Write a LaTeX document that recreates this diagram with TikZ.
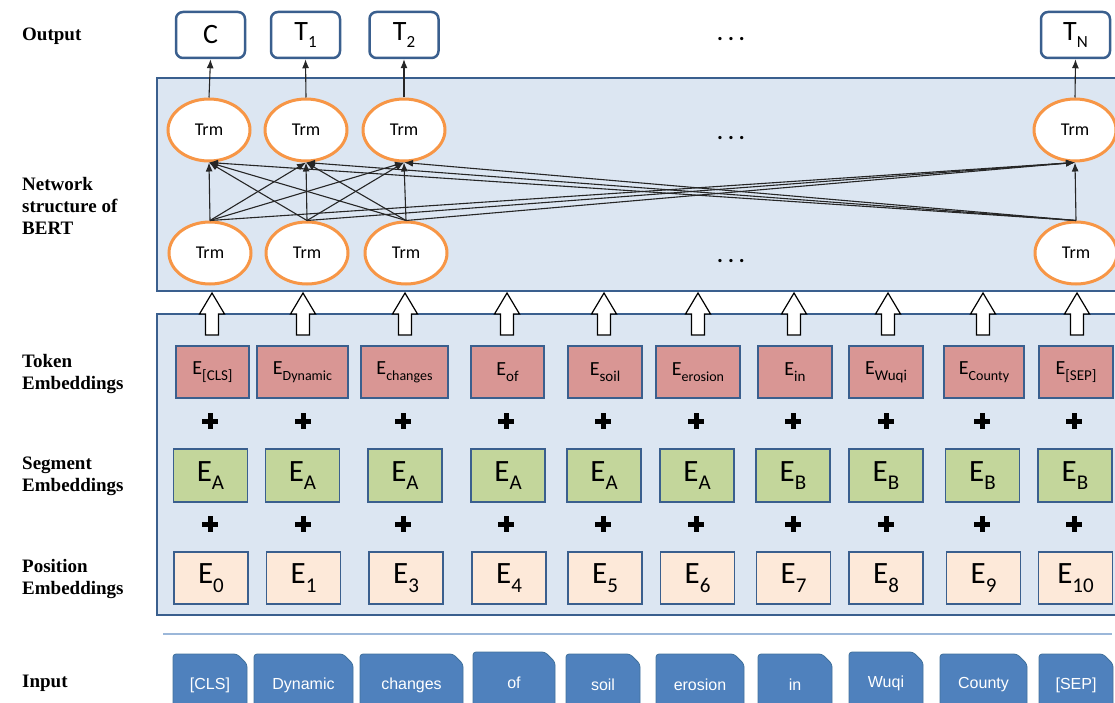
\documentclass[tikz,border=0pt]{standalone}
\usepackage{fontspec}
\setmainfont{Carlito}
\newfontfamily\labelfont{Liberation Serif}
\newfontfamily\inputfont{Liberation Sans}
\usetikzlibrary{shapes.geometric,shapes.misc,arrows.meta}
\definecolor{panelfill}{HTML}{DCE6F2}
\definecolor{panelline}{HTML}{3A5F8E}
\definecolor{tokfill}{HTML}{D99694}
\definecolor{segfill}{HTML}{C3D69B}
\definecolor{posfill}{HTML}{FDE9D9}
\definecolor{trmline}{HTML}{F79646}
\definecolor{inpfill}{HTML}{4F81BD}
\definecolor{inpline}{HTML}{41719C}
\definecolor{sepline}{HTML}{9BB7D9}
\newcommand\lsub[2]{\raisebox{-0.28em}{\fontsize{#1}{#1}\selectfont #2}}
\begin{document}
\begin{tikzpicture}[x=1pt,y=-1pt,
  lbl/.style={anchor=west, align=left, inner sep=0pt, font=\labelfont\bfseries\fontsize{19}{22}\selectfont},
  panel/.style={draw=panelline, fill=panelfill, line width=2.5pt},
  outbox/.style={draw=panelline, fill=white, line width=2.5pt, rounded corners=7pt, minimum width=69pt, minimum height=46pt, inner sep=0pt, font=\fontsize{28}{28}\selectfont},
  trm/.style={ellipse, draw=trmline, fill=white, line width=3pt, minimum width=82pt, minimum height=62pt, inner sep=0pt, font=\fontsize{18}{18}\selectfont},
  conn/.style={-{Latex[length=9pt,width=7pt]}, line width=1.1pt, draw=black!85},
  hollow/.style={draw=black, fill=white, line width=1.2pt},
  plussign/.style={line width=5pt, draw=black},
  tokbox/.style={draw=panelline, fill=tokfill, line width=1.5pt, minimum height=52pt, inner sep=0pt, font=\fontsize{20}{20}\selectfont},
  segbox/.style={draw=panelline, fill=segfill, line width=1.5pt, minimum height=53pt, minimum width=74pt, inner sep=0pt, font=\fontsize{31}{31}\selectfont},
  posbox/.style={draw=panelline, fill=posfill, line width=1.5pt, minimum height=52pt, minimum width=74pt, inner sep=0pt, font=\fontsize{31}{31}\selectfont},
  inpbox/.style={chamfered rectangle, chamfered rectangle corners=north east, chamfered rectangle xsep=5pt, chamfered rectangle ysep=5pt, rounded corners=3pt, draw=inpline, fill=inpfill, line width=0.8pt, minimum height=62pt, inner sep=0pt, text=white, font=\inputfont\fontsize{16}{16}\selectfont},
  dotsnode/.style={font=\bfseries\fontsize{22}{22}\selectfont, inner sep=0pt}
]
\useasboundingbox (0,0) rectangle (1115,703);

% left labels
\node[lbl] (lOut) at (22,36) {Output};
\node[lbl] (lNet) at (22,206) {Network\\structure of\\BERT};
\node[lbl] (lTok) at (22,374) {Token\\Embeddings};
\node[lbl] (lSeg) at (22,476) {Segment\\Embeddings};
\node[lbl] (lPos) at (22,579) {Position\\Embeddings};
\node[lbl] (lIn) at (22,683) {Input};

% panels
\path[panel] (157,78) rectangle (1130,291);
\path[panel] (157,314) rectangle (1130,615);

% output boxes
\node[outbox] (out1) at (210.5,35) {C};
\node[outbox] (out2) at (305.5,35) {T\lsub{17}{1}};
\node[outbox] (out3) at (404,35) {T\lsub{17}{2}};
\node[outbox] (out4) at (1075.5,35) {T\lsub{17}{N}};

% transformer nodes
\node[trm] (t1) at (209,130) {Trm};
\node[trm] (t2) at (306,130) {Trm};
\node[trm] (t3) at (404,130) {Trm};
\node[trm] (t4) at (1075,130) {Trm};
\node[trm] (b1) at (210,253) {Trm};
\node[trm] (b2) at (307,253) {Trm};
\node[trm] (b3) at (406,253) {Trm};
\node[trm] (b4) at (1076,253) {Trm};

% dots
\node[dotsnode] (d1) at (731,39) {.\ .\ .};
\node[dotsnode] (d2) at (731,138) {.\ .\ .};
\node[dotsnode] (d3) at (731,261) {.\ .\ .};

% connections
\foreach \b in {1,2,3,4}
  \foreach \t in {1,2,3,4}
    \draw[conn] (b\b.north) -- (t\t.south);
\foreach \i in {1,2,3,4}
  \draw[conn] (t\i.north) -- (out\i.south);

% hollow arrows
\foreach \x in {212,303,405,507,604,698,794,888,983,1077}
  \draw[hollow] (\x,293) -- (\x+12.5,314) -- (\x+6.5,314) -- (\x+6.5,335) -- (\x-6.5,335) -- (\x-6.5,314) -- (\x-12.5,314) -- cycle;

% token embeddings
\node[tokbox, minimum width=73pt] (tk1) at (212.5,372) {E\lsub{15}{[CLS]}};
\node[tokbox, minimum width=91pt] (tk2) at (302.5,372) {E\lsub{14}{Dynamic}};
\node[tokbox, minimum width=87pt] (tk3) at (404.5,372) {E\lsub{14}{changes}};
\node[tokbox, minimum width=73pt] (tk4) at (507.5,372) {E\lsub{15}{of}};
\node[tokbox, minimum width=74pt] (tk5) at (605,372) {E\lsub{15}{soil}};
\node[tokbox, minimum width=84pt] (tk6) at (698,372) {E\lsub{14}{erosion}};
\node[tokbox, minimum width=74pt] (tk7) at (795,372) {E\lsub{15}{in}};
\node[tokbox, minimum width=74pt] (tk8) at (886,372) {E\lsub{15}{Wuqi}};
\node[tokbox, minimum width=80pt] (tk9) at (984,372) {E\lsub{14}{County}};
\node[tokbox, minimum width=74pt] (tk10) at (1076,372) {E\lsub{15}{[SEP]}};

% plus signs
\foreach \x in {210,303,403,506,603,696,793,886,982,1074}
  \foreach \y in {421,524}
    \draw[plussign] (\x-8,\y) -- (\x+8,\y) (\x,\y-8) -- (\x,\y+8);

% segment embeddings
\node[segbox] (sg1) at (210.5,475.5) {E\lsub{21}{A}};
\node[segbox] (sg2) at (302.5,475.5) {E\lsub{21}{A}};
\node[segbox] (sg3) at (405,475.5) {E\lsub{21}{A}};
\node[segbox] (sg4) at (508,475.5) {E\lsub{21}{A}};
\node[segbox] (sg5) at (604,475.5) {E\lsub{21}{A}};
\node[segbox] (sg6) at (697,475.5) {E\lsub{21}{A}};
\node[segbox] (sg7) at (793,475.5) {E\lsub{21}{B}};
\node[segbox] (sg8) at (886,475.5) {E\lsub{21}{B}};
\node[segbox] (sg9) at (982.5,475.5) {E\lsub{21}{B}};
\node[segbox] (sg10) at (1075,475.5) {E\lsub{21}{B}};

% position embeddings
\node[posbox] (ps1) at (211,578) {E\lsub{21}{0}};
\node[posbox] (ps2) at (303.5,578) {E\lsub{21}{1}};
\node[posbox] (ps3) at (406,578) {E\lsub{21}{3}};
\node[posbox] (ps4) at (509,578) {E\lsub{21}{4}};
\node[posbox] (ps5) at (605,578) {E\lsub{21}{5}};
\node[posbox] (ps6) at (697.5,578) {E\lsub{21}{6}};
\node[posbox] (ps7) at (793.5,578) {E\lsub{21}{7}};
\node[posbox] (ps8) at (886,578) {E\lsub{21}{8}};
\node[posbox] (ps9) at (983.5,578) {E\lsub{21}{9}};
\node[posbox] (ps10) at (1075.5,578) {E\lsub{21}{10}};

% separator line
\coordinate (sepL) at (163,634);
\coordinate (sepR) at (1112,634);
\draw[draw=sepline, line width=2pt] (sepL) -- (sepR);

% input tokens
\node[inpbox, minimum width=74pt] (in1) at (210,685) {[CLS]};
\node[inpbox, minimum width=99pt] (in2) at (303.5,685) {Dynamic};
\node[inpbox, minimum width=103pt] (in3) at (411.5,685) {changes};
\node[inpbox, minimum width=82pt] (in4) at (514,683) {of};
\node[inpbox, minimum width=74pt] (in5) at (603,685) {soil};
\node[inpbox, minimum width=88pt] (in6) at (700,685) {erosion};
\node[inpbox, minimum width=74pt] (in7) at (795,685) {in};
\node[inpbox, minimum width=74pt] (in8) at (886,683) {Wuqi};
\node[inpbox, minimum width=87pt] (in9) at (983.5,685) {County};
\node[inpbox, minimum width=74pt] (in10) at (1076,685) {[SEP]};
\end{tikzpicture}
\end{document}
